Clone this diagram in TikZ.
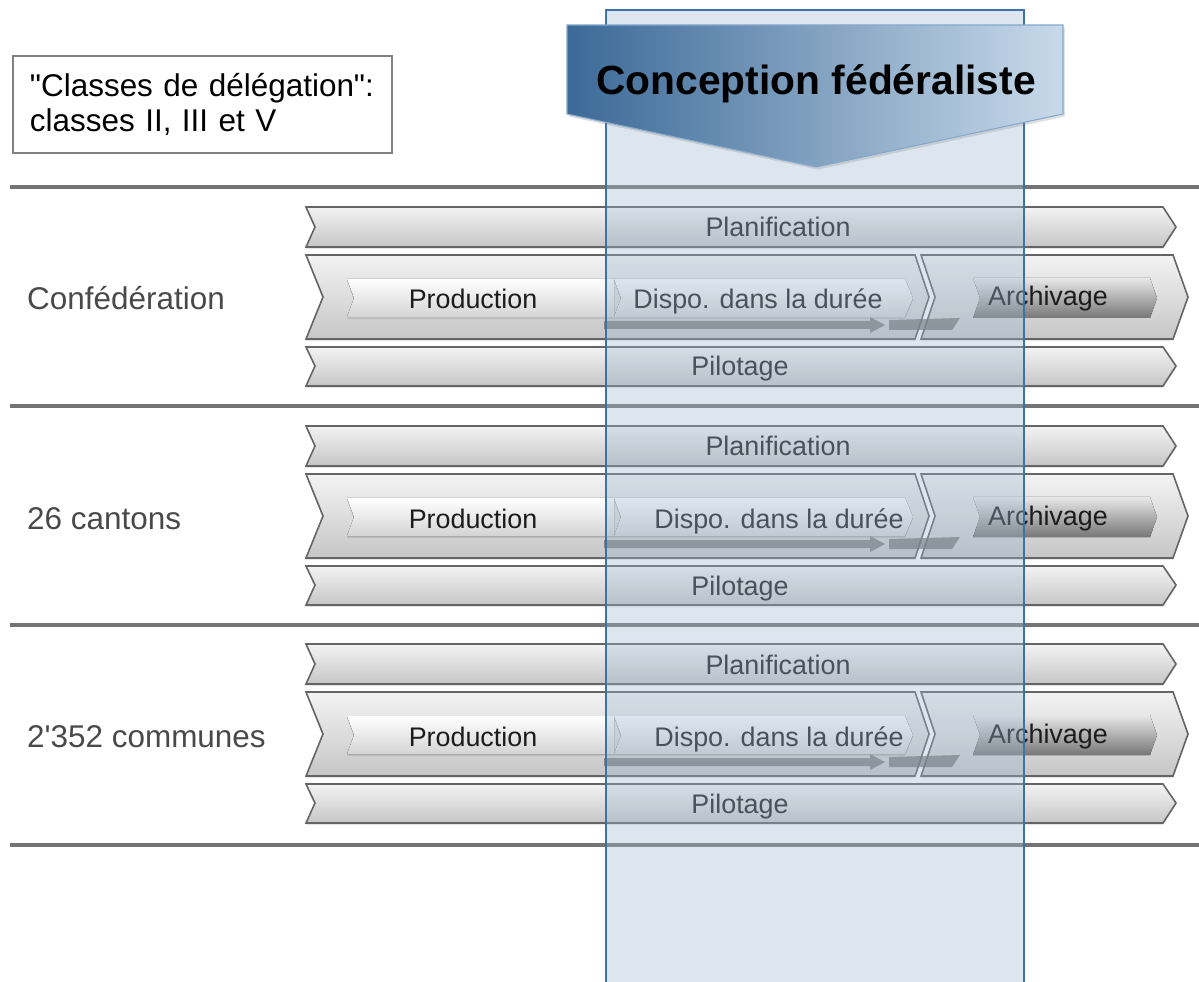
\documentclass[tikz,border=0pt]{standalone}
\usepackage{fontspec}
\setmainfont{Liberation Sans}
\usepackage{xcolor}
\usetikzlibrary{shadows}

\definecolor{bandline}{HTML}{646464}
\definecolor{bandtop}{HTML}{F3F3F3}
\definecolor{bandbot}{HTML}{C6C6C6}
\definecolor{innerbot}{HTML}{D4D4D4}
\definecolor{archtop}{HTML}{E8E8E8}
\definecolor{archbot}{HTML}{777777}
\definecolor{barcol}{HTML}{666666}
\definecolor{textgray}{HTML}{1C1C1C}
\definecolor{sepgray}{HTML}{747474}
\definecolor{colfill}{HTML}{9FB6CF}
\definecolor{colline}{HTML}{3D72A8}
\definecolor{hdleft}{HTML}{3B6997}
\definecolor{hdmid}{HTML}{6693C0}
\definecolor{hdright}{HTML}{C8DAEA}

\begin{document}
\begin{tikzpicture}[x=0.02cm,y=-0.02cm,
    band/.style={draw=bandline,line width=0.9pt,top color=bandtop,bottom color=bandbot,
        drop shadow={opacity=.2,shadow xshift=0pt,shadow yshift=-1.2pt}},
    inner/.style={top color=white,bottom color=innerbot,
        drop shadow={opacity=.25,shadow xshift=0pt,shadow yshift=-1.2pt}},
    archbox/.style={top color=archtop,bottom color=archbot},
    shadowbar/.style={fill=barcol,opacity=.7},
    bandtext/.style={anchor=base,text=textgray,font=\fontsize{15.3}{18}\selectfont},
    rowtext/.style={anchor=base west,text=textgray!80,font=\fontsize{17.9}{21}\selectfont},
    sep/.style={draw=sepgray,line width=2.2pt}]
    \useasboundingbox (0,0) rectangle (1199,982);

    % separators between levels
    \foreach \y in {187,406,625,845}
        \draw[sep] (10,\y) -- (1199,\y);

    % one level per row
    \foreach \dy/\dx/\name/\row in {0/758/Confédération/1,219/779/26 cantons/2,437/779/2\textquotesingle 352 communes/3} {
    \begin{scope}[shift={(0,\dy)}]
        % planification band
        \draw[band] (306,207) -- (1163,207) -- (1176,227) -- (1163,247) -- (306,247) -- (315,227) -- cycle;
        \node[bandtext] (plan\row) at (778,237) {Planification};

        % main band, two chevrons
        \draw[band] (306,255) -- (915,255) -- (929,297) -- (915,339) -- (306,339) -- (323,297) -- cycle;
        \draw[band] (921,255) -- (1173,255) -- (1188,297) -- (1173,339) -- (921,339) -- (935,297) -- cycle;

        % shadow arrows under the steps
        \fill[shadowbar] (604,321) -- (870,321) -- (870,317) -- (885,325) -- (870,333) -- (870,329) -- (604,329) -- cycle;
        \fill[shadowbar] (889,320) -- (960,318) -- (952,330) -- (889,330) -- cycle;

        % steps
        \fill[inner] (347,279) -- (614,279) -- (614,317) -- (347,317) -- (354,298) -- cycle;
        \node[bandtext] (prod\row) at (473,309) {Production};
        \fill[inner] (614,279) -- (905,279) -- (913,298) -- (905,317) -- (614,317) -- (621,298) -- cycle;
        \node[bandtext] (dispo\row) at (\dx,309) {Dispo. dans la durée};
        \fill[archbox] (973,278) -- (1150,278) -- (1157,298) -- (1150,318) -- (973,318) -- (980,298) -- cycle;
        \node[bandtext] (arch\row) at (1048,306) {Archivage};

        % pilotage band
        \draw[band] (306,347) -- (1163,347) -- (1176,366) -- (1163,386) -- (306,386) -- (315,366) -- cycle;
        \node[bandtext] (pilot\row) at (740,376) {Pilotage};

        % level name
        \node[rowtext] (level\row) at (21,310) {\name};
    \end{scope}
    }

    % federalist column
    \filldraw[fill=colfill,fill opacity=.35,draw=colline,line width=.8pt] (606,10) rectangle (1024,995);

    % header arrow
    \shadedraw[left color=hdleft,middle color=hdmid,right color=hdright,draw=hdmid!80,line width=.6pt,
        drop shadow={opacity=.25,shadow xshift=1pt,shadow yshift=-1.5pt}]
        (567,25) -- (1063,25) -- (1063,114) -- (816,167) -- (567,114) -- cycle;
    \node[anchor=base,font=\bfseries\fontsize{23.2}{28}\selectfont] (concept) at (816,95) {Conception fédéraliste};

    % delegation classes box
    \node[draw=sepgray!90,line width=1.1pt,fill=white,anchor=north west,
          minimum width=7.58cm,minimum height=1.9cm,inner sep=0.34cm,text width=6.9cm,align=left,
          font=\fontsize{17.9}{20.4}\selectfont] (deleg) at (12,55)
        {\textquotedbl Classes de délégation\textquotedbl:\\classes II, III et V};
\end{tikzpicture}
\end{document}
